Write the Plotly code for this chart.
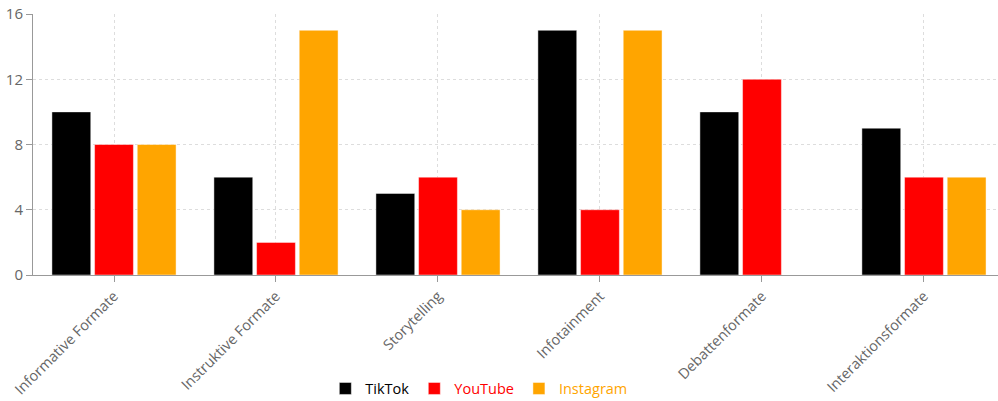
import plotly.graph_objects as go

categories = ["Informative Formate", "Instruktive Formate", "Storytelling",
              "Infotainment", "Debattenformate", "Interaktionsformate"]
tiktok = [10, 6, 5, 15, 10, 9]
youtube = [8, 2, 6, 4, 12, 6]
instagram = [8, 15, 4, 15, 0, 6]
series_names = ["TikTok", "YouTube", "Instagram"]
series_colors = ["#000000", "#ff0000", "#ffa500"]
y_ticks = [0, 4, 8, 12, 16]

fig = go.Figure()
for name, vals, col in zip(series_names, [tiktok, youtube, instagram], series_colors):
    fig.add_trace(go.Bar(
        x=categories, y=vals,
        name=f"<span style='color:{col}'>{name}</span>",
        marker=dict(color=col, line=dict(color="rgba(255,255,255,0.45)", width=1)),
    ))

font_family = "Open Sans, Noto Sans, sans-serif"
fig.update_layout(
    width=998, height=401,
    margin=dict(l=33, r=0, t=14, b=126, autoexpand=False),
    paper_bgcolor="white", plot_bgcolor="white",
    barmode="group", bargap=0.21, bargroupgap=0.09,
    font=dict(family=font_family, size=14, color="#666666"),
    showlegend=True,
    legend=dict(orientation="h", x=0.462, xanchor="center", y=-0.435, yanchor="middle",
                font=dict(size=14.5), itemwidth=30, traceorder="normal"),
)
fig.update_xaxes(
    range=[-0.5, 5.457], automargin=False,
    showline=True, linecolor="#999999", linewidth=1,
    ticks="outside", ticklen=6, tickcolor="#999999",
    showgrid=True, gridcolor="#dddddd", griddash="3px,3px", gridwidth=1,
    tickangle=-45, tickfont=dict(size=14.5, color="#666666"),
)
fig.update_yaxes(
    range=[0, 16], tickvals=y_ticks, automargin=False,
    showline=True, linecolor="#999999", linewidth=1,
    ticks="outside", ticklen=6, tickcolor="#999999",
    showgrid=True, gridcolor="#dddddd", griddash="3px,3px", gridwidth=1,
    zeroline=False, tickfont=dict(size=15, color="#666666"),
)
fig.write_html("out.html")
